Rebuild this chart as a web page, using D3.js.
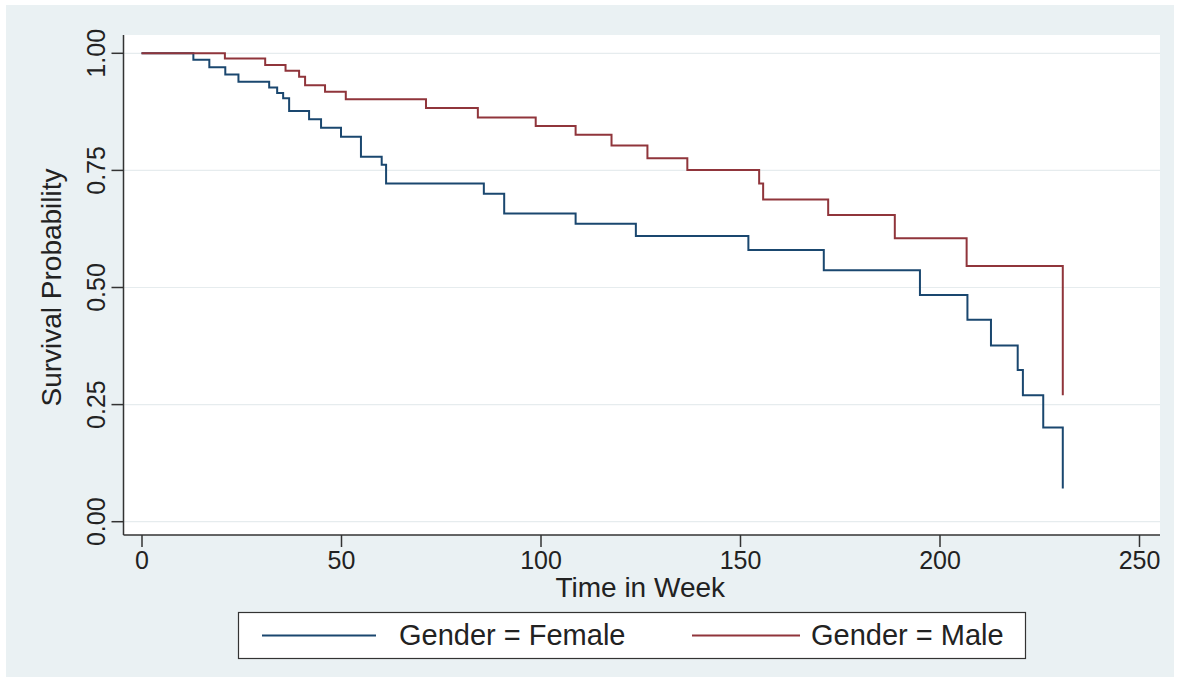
<!DOCTYPE html>
<html>
<head>
<meta charset="utf-8">
<script src="https://cdn.jsdelivr.net/npm/d3@7"></script>
<style>
  html, body { margin: 0; padding: 0; background: #ffffff; }
  svg { display: block; font-family: "Liberation Sans", Arial, sans-serif; }
</style>
</head>
<body>
<svg id="chart" width="1180" height="682"></svg>
<script>
// Kaplan-Meier survival estimates by gender (time in weeks, survival after each event)
const femaleTimes    = [0, 13, 17, 21, 24.3, 32, 34, 35.5, 37, 42, 45, 50, 55, 60.2, 61.3, 85.8, 90.9, 108.8, 123.9, 152.1, 171, 195.1, 207, 212.9, 219.6, 220.9, 226, 230.9];
const femaleSurvival = [1.0, 0.986, 0.970, 0.955, 0.939, 0.927, 0.915, 0.904, 0.877, 0.859, 0.841, 0.822, 0.779, 0.762, 0.722, 0.700, 0.658, 0.636, 0.610, 0.580, 0.537, 0.484, 0.431, 0.376, 0.324, 0.270, 0.201, 0.071];

const maleTimes    = [0, 20.9, 31, 36.1, 39.5, 41, 46, 51.2, 71.3, 84.3, 98.8, 108.8, 117.8, 126.8, 136.8, 154.8, 155.8, 172.1, 188.8, 206.8, 230.9];
const maleSurvival = [1.0, 0.989, 0.975, 0.963, 0.950, 0.932, 0.918, 0.902, 0.883, 0.863, 0.845, 0.826, 0.803, 0.776, 0.751, 0.722, 0.688, 0.655, 0.605, 0.546, 0.270];

const xTicks = [0, 50, 100, 150, 200, 250];
const yTicks = [0, 0.25, 0.5, 0.75, 1];
const seriesNames = ["Gender = Female", "Gender = Male"];
const seriesColors = ["#1a476f", "#90353b"];

const svg = d3.select("#chart");
const W = 1180, H = 682;

// outer graph region
svg.append("rect").attr("x", 6).attr("y", 5).attr("width", W - 12).attr("height", H - 10)
  .attr("fill", "#eaf1f3");

// plot region
const plot = { left: 123.5, right: 1160, top: 35, bottom: 535 };
svg.append("rect").attr("x", plot.left).attr("y", plot.top)
  .attr("width", plot.right - plot.left).attr("height", plot.bottom - plot.top)
  .attr("fill", "#ffffff");

const x = d3.scaleLinear().domain([0, 250]).range([141.5, 1139]);
const y = d3.scaleLinear().domain([0, 1]).range([521.7, 53.3]);

// horizontal gridlines
svg.append("g").selectAll("line").data(yTicks).join("line")
  .attr("x1", plot.left).attr("x2", plot.right)
  .attr("y1", d => y(d)).attr("y2", d => y(d))
  .attr("stroke", "#e6ecee").attr("stroke-width", 1.2);

// y axis
const yAxis = d3.axisLeft(y).tickValues(yTicks).tickFormat(d3.format(".2f"))
  .tickSizeInner(12).tickSizeOuter(0).tickPadding(6);
const gy = svg.append("g").attr("transform", `translate(${plot.left},0)`).call(yAxis);
gy.select(".domain").remove();
gy.append("line").attr("x1", 0).attr("x2", 0).attr("y1", plot.top).attr("y2", plot.bottom)
  .attr("stroke", "#333").attr("stroke-width", 1.5);
gy.selectAll(".tick line").attr("stroke", "#333").attr("stroke-width", 1.5);
gy.selectAll(".tick text")
  .attr("fill", "#222").attr("font-size", 25)
  .attr("text-anchor", "middle")
  .attr("transform", "rotate(-90)")
  .attr("x", d => -y(d)).attr("y", -19).attr("dy", 0);
gy.selectAll(".tick").attr("transform", null);
gy.selectAll(".tick line").attr("y1", d => y(d)).attr("y2", d => y(d));

// x axis
const xAxis = d3.axisBottom(x).tickValues(xTicks).tickFormat(d3.format("d"))
  .tickSizeInner(12).tickSizeOuter(0).tickPadding(4);
const gx = svg.append("g").attr("transform", `translate(0,${plot.bottom})`).call(xAxis);
gx.select(".domain").remove();
gx.append("line").attr("x1", plot.left).attr("x2", plot.right).attr("y1", 0).attr("y2", 0)
  .attr("stroke", "#333").attr("stroke-width", 1.5);
gx.selectAll(".tick line").attr("stroke", "#333").attr("stroke-width", 1.5);
gx.selectAll(".tick text").attr("fill", "#222").attr("font-size", 25);

// axis titles
svg.append("text").attr("x", (x(0) + x(250)) / 2).attr("y", 597)
  .attr("text-anchor", "middle").attr("font-size", 28).attr("fill", "#222")
  .text("Time in Week");
svg.append("text").attr("transform", `translate(61,${(y(0) + y(1)) / 2}) rotate(-90)`)
  .attr("text-anchor", "middle").attr("font-size", 28).attr("fill", "#222")
  .text("Survival Probability");

// survival step curves
const line = d3.line().curve(d3.curveStepAfter).x(d => x(d[0])).y(d => y(d[1]));
const series = [
  d3.zip(femaleTimes, femaleSurvival),
  d3.zip(maleTimes, maleSurvival)
];
svg.append("g").selectAll("path").data(series).join("path")
  .attr("d", line)
  .attr("fill", "none")
  .attr("stroke", (d, i) => seriesColors[i])
  .attr("stroke-width", 2);

// legend
const legend = svg.append("g");
legend.append("rect").attr("x", 238.5).attr("y", 612.5).attr("width", 787).attr("height", 46)
  .attr("fill", "#ffffff").attr("stroke", "#333").attr("stroke-width", 1.2);
const legendItems = [
  { x1: 262, x2: 376, tx: 399 },
  { x1: 692, x2: 800, tx: 811 }
];
legendItems.forEach((it, i) => {
  legend.append("line").attr("x1", it.x1).attr("x2", it.x2).attr("y1", 635.5).attr("y2", 635.5)
    .attr("stroke", seriesColors[i]).attr("stroke-width", 2);
  legend.append("text").attr("x", it.tx).attr("y", 645).attr("font-size", 29).attr("fill", "#222")
    .text(seriesNames[i]);
});
</script>
</body>
</html>
